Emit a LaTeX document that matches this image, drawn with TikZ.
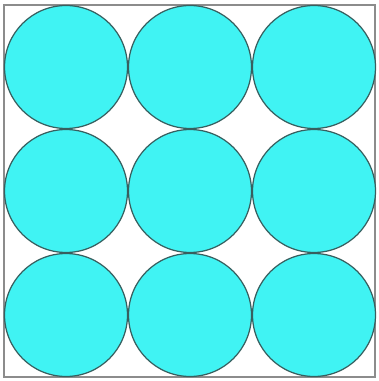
\documentclass[tikz,border=0pt]{standalone}
\usepackage{tikz}
\definecolor{ballcyan}{RGB}{64,243,243}
\definecolor{ballrim}{RGB}{55,95,95}
\definecolor{framegray}{RGB}{140,140,140}

\begin{document}
\begin{tikzpicture}[
    x=0.02cm, y=-0.02cm,
    ball/.style={
      circle,
      draw=ballrim,
      fill=ballcyan,
      line width=0.7pt,
      minimum size=2.46cm,
      inner sep=0pt
    },
    frame/.style={draw=framegray, line width=0.9pt}
  ]
    \useasboundingbox (0,0) rectangle (378,381);
    \node[frame, rectangle, minimum width=7.42cm, minimum height=7.44cm,
      inner sep=0pt] (box) at (189.5,191) {};

    % 3x3 grid of balls
    \foreach \row in {0,1,2} {
      \foreach \col in {0,1,2} {
        \node[ball] (ball-\row-\col) at (66+124*\col, 67+124*\row) {};
      }
    }
  \end{tikzpicture}
\end{document}
